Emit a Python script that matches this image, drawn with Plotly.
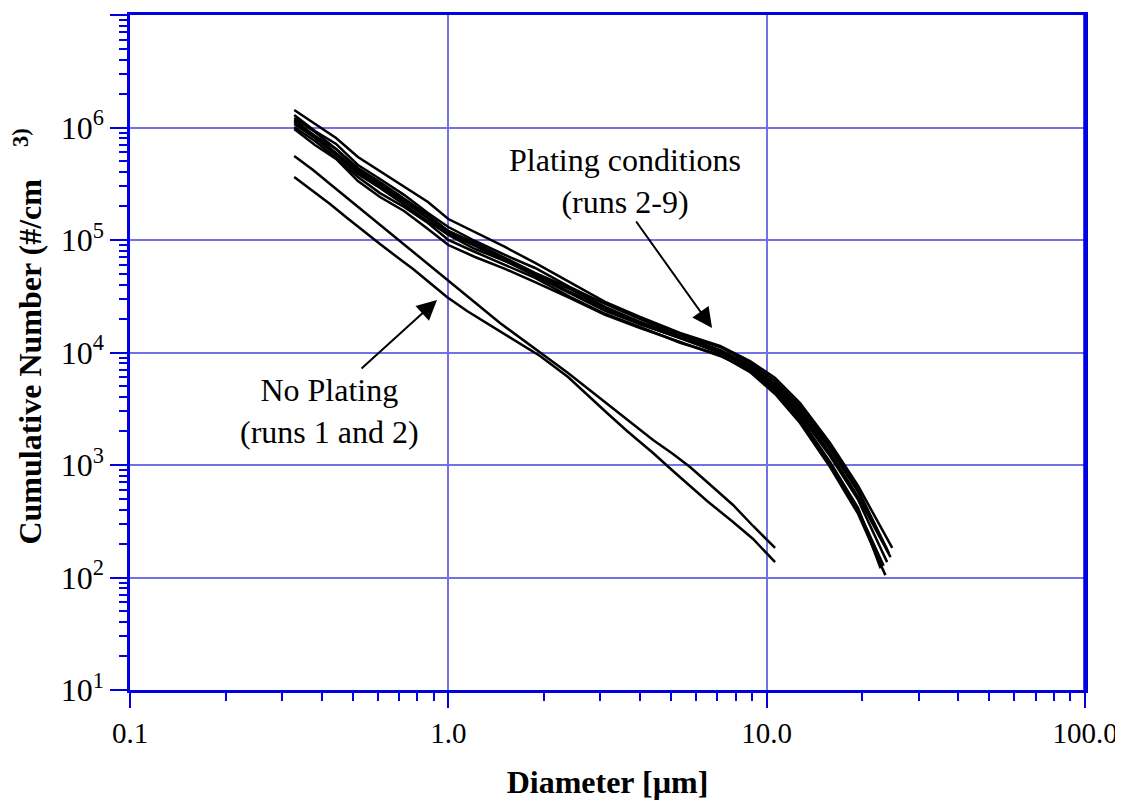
import plotly.graph_objects as go

# ---------------- data ----------------
# No plating runs (runs 1 and 2)
diam_noplate = [0.328, 0.376, 0.425, 0.481, 0.540, 0.610, 0.690, 0.775, 0.876, 0.990,
                1.145, 1.453, 1.942, 2.377, 2.728, 3.152, 3.642, 4.397, 5.080, 5.745,
                6.500, 7.842, 9.065, 10.63]
noplate_run1 = [5.58e5, 4.19e5, 3.15e5, 2.36e5, 1.811e5, 1.36e5, 1.021e5, 7.82e4, 5.87e4, 4.41e4,
                3.18e4, 1.83e4, 1.01e4, 6.57e3, 4.83e3, 3.49e3, 2.51e3, 1.668e3, 1.253e3, 960,
                706, 441, 287, 183]
noplate_run2 = [3.63e5, 2.73e5, 2.09e5, 1.569e5, 1.202e5, 9.21e4, 7.06e4, 5.52e4, 4.15e4, 3.11e4,
                2.34e4, 1.553e4, 9.31e3, 6.06e3, 4.19e3, 2.90e3, 2.005e3, 1.278e3, 885, 651,
                479, 311, 220, 137]

# Plating conditions (runs 2-9): shared diameters, then each run's last diameter
diam_plate = [0.328, 0.381, 0.444, 0.520, 0.610, 0.726, 0.863, 1.0, 1.213, 1.507,
              1.873, 2.412, 3.107, 4.003, 5.345, 7.138, 8.869, 10.63, 12.73, 15.82, 19.38]
plate_end_diam = [24.8, 24.2, 23.9, 23.9, 22.8, 23.6, 23.3, 24.5]
plate_run_a = [1.431e6, 1.075e6, 8.07e5, 5.47e5, 4.10e5, 3.02e5, 2.176e5, 1.537e5, 1.178e5, 8.67e4,
               6.25e4, 4.23e4, 2.82e4, 2.07e4, 1.49e4, 1.142e4, 8.40e3, 5.94e3, 3.56e3, 1.57e3, 651, 183]
plate_run_b = [1.292e6, 9.31e5, 7.14e5, 4.64e5, 3.48e5, 2.52e5, 1.737e5, 1.305e5, 9.80e4, 7.36e4,
               5.64e4, 3.82e4, 2.70e4, 1.985e4, 1.431e4, 1.119e4, 8.07e3, 5.58e3, 3.35e3, 1.475e3, 600, 165]
plate_run_c = [1.166e6, 8.41e5, 6.44e5, 4.19e5, 3.14e5, 2.27e5, 1.569e5, 1.178e5, 9.22e4, 6.78e4,
               4.99e4, 3.67e4, 2.49e4, 1.83e4, 1.402e4, 1.053e4, 7.75e3, 5.25e3, 3.15e3, 1.388e3, 576, 176]
plate_run_d = [1.074e6, 8.07e5, 5.70e5, 3.86e5, 2.90e5, 2.05e5, 1.475e5, 1.107e5, 8.32e4, 6.51e4,
               4.78e4, 3.31e4, 2.34e4, 1.792e4, 1.346e4, 9.90e3, 7.28e3, 4.84e3, 2.78e3, 1.202e3, 489, 137]
plate_run_e = [1.215e6, 9.12e5, 6.44e5, 4.37e5, 3.27e5, 2.32e5, 1.668e5, 1.203e5, 9.41e4, 6.92e4,
               5.09e4, 3.74e4, 2.54e4, 1.867e4, 1.402e4, 1.032e4, 7.13e3, 4.64e3, 2.62e3, 1.063e3, 415, 121]
plate_run_f = [1.010e6, 7.58e5, 5.36e5, 3.63e5, 2.61e5, 1.966e5, 1.415e5, 1.0e5, 7.82e4, 5.99e4,
               4.60e4, 3.12e4, 2.21e4, 1.69e4, 1.22e4, 9.51e3, 6.70e3, 4.28e3, 2.36e3, 960, 367, 105]
plate_run_g = [9.70e5, 6.99e5, 5.25e5, 3.34e5, 2.41e5, 1.811e5, 1.252e5, 9.02e4, 7.06e4, 5.53e4,
               4.23e4, 3.05e4, 2.16e4, 1.65e4, 1.24e4, 9.31e3, 6.98e3, 4.46e3, 2.46e3, 1.021e3, 399, 127]
plate_run_h = [1.119e6, 8.41e5, 5.93e5, 4.02e5, 3.02e5, 2.18e5, 1.569e5, 1.131e5, 8.85e4, 6.51e4,
               4.99e4, 3.45e4, 2.44e4, 1.792e4, 1.346e4, 1.011e4, 7.59e3, 5.04e3, 2.96e3, 1.279e3, 520, 152]
plate_runs = [plate_run_a, plate_run_b, plate_run_c, plate_run_d,
              plate_run_e, plate_run_f, plate_run_g, plate_run_h]

x_tick_vals = [0.1, 1, 10, 100]
x_tick_text = ["0.1", "1.0", "10.0", "100.0"]
y_tick_vals = [1e1, 1e2, 1e3, 1e4, 1e5, 1e6, 1e7]
y_tick_text = ["10<sup>1</sup>", "10<sup>2</sup>", "10<sup>3</sup>", "10<sup>4</sup>",
               "10<sup>5</sup>", "10<sup>6</sup>", "10<sup>7</sup>"]

# ---------------- styles ----------------
AXIS_BLUE = "#0000e0"
GRID_BLUE = "#7272e6"
SERIF = "Liberation Serif, Times New Roman, serif"
LINE = dict(color="black", width=2.5)
NOTE_FONT = dict(size=32, family=SERIF, color="black")

fig = go.Figure()

for vals in (noplate_run1, noplate_run2):
    fig.add_trace(go.Scatter(x=diam_noplate, y=vals, mode="lines", line=LINE,
                             showlegend=False, hoverinfo="skip"))

for end_d, vals in zip(plate_end_diam, plate_runs):
    fig.add_trace(go.Scatter(x=diam_plate + [end_d], y=vals, mode="lines", line=LINE,
                             showlegend=False, hoverinfo="skip"))

fig.update_layout(
    width=1123, height=803,
    margin=dict(l=122, r=46, t=7, b=121),
    paper_bgcolor="white", plot_bgcolor="white",
    font=dict(family=SERIF, color="black", size=30),
    showlegend=False,
)

fig.update_xaxes(
    type="log", range=[-1, 2], automargin=False,
    tickmode="array", tickvals=x_tick_vals, ticktext=x_tick_text,
    ticks="outside", ticklen=15, tickwidth=2, tickcolor=AXIS_BLUE,
    minor=dict(ticks="outside", ticklen=8, tickwidth=2, tickcolor=AXIS_BLUE,
               dtick="D1", showgrid=False),
    showline=True, linecolor=AXIS_BLUE, linewidth=2.5, mirror=True,
    showgrid=True, gridcolor=GRID_BLUE, gridwidth=2,
    tickfont=dict(size=29, family=SERIF, color="black"),
    title=dict(text="<b>Diameter [µm]</b>", font=dict(size=32, family=SERIF), standoff=24),
    zeroline=False,
)
fig.update_yaxes(
    type="log", range=[1, 7], automargin=False,
    tickmode="array", tickvals=y_tick_vals, ticktext=y_tick_text,
    ticks="outside", ticklen=17, tickwidth=2, tickcolor=AXIS_BLUE,
    minor=dict(ticks="outside", ticklen=8, tickwidth=2, tickcolor=AXIS_BLUE,
               dtick="D1", showgrid=False),
    showline=True, linecolor=AXIS_BLUE, linewidth=2.5, mirror=True,
    showgrid=True, gridcolor=GRID_BLUE, gridwidth=2,
    tickfont=dict(size=32, family=SERIF, color="black"),
    title=dict(text="<b>&#160;&#160;&#160;&#160;Cumulative Number (#/cm&#160;&#160;&#160;&#160;<sup>3)</sup></b>",
               font=dict(size=32, family=SERIF), standoff=10),
    zeroline=False,
)

# thicker right frame line
fig.add_shape(type="line", xref="paper", yref="paper", x0=1, x1=1, y0=0, y1=1,
              line=dict(color=AXIS_BLUE, width=3.5))

# arrows
fig.add_annotation(x=0.8285, y=4.218, xref="x", yref="y",
                   ax=-77, ay=-108, axref="pixel", ayref="pixel",
                   showarrow=True, arrowhead=2, arrowsize=2, arrowwidth=2,
                   arrowcolor="black", text="")
fig.add_annotation(x=-0.0355, y=4.467, xref="x", yref="y",
                   ax=-77, ay=70, axref="pixel", ayref="pixel",
                   showarrow=True, arrowhead=2, arrowsize=2, arrowwidth=2,
                   arrowcolor="black", text="")
# labels
fig.add_annotation(x=0.555, y=5.524, xref="x", yref="y",
                   text="Plating conditions<br>(runs 2-9)", align="center",
                   showarrow=False, font=NOTE_FONT)
fig.add_annotation(x=-0.372, y=3.48, xref="x", yref="y",
                   text="No Plating<br>(runs 1 and 2)", align="center",
                   showarrow=False, font=NOTE_FONT)

fig.write_html("out.html")
